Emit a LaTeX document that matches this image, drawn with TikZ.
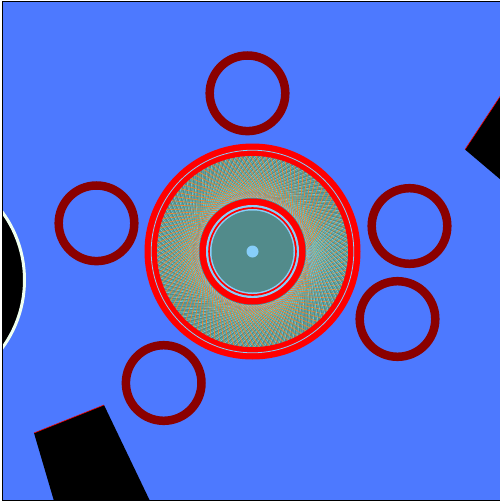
\documentclass[tikz,border=0pt]{standalone}
\usepackage{xcolor}
\usepackage{tikz}
\usetikzlibrary{calc}
\definecolor{fieldblue}{RGB}{77, 121, 255}
\definecolor{ringred}{RGB}{139, 0, 0}
\definecolor{hubteal}{RGB}{82, 139, 139}
\definecolor{skyline}{RGB}{135, 206, 250}
\definecolor{bladeorange}{RGB}{255, 127, 36}
\definecolor{bladecyan}{RGB}{120, 200, 220}
\definecolor{bladegreen}{RGB}{130, 210, 170}
\definecolor{rimwhite}{RGB}{240, 255, 240}

\begin{document}
\begin{tikzpicture}[x=1pt, y=-1pt, bolt/.style={draw=ringred, line width=8.5pt}, obstacle/.style={fill=black}]
    \useasboundingbox (0,0) rectangle (500,501);
    \fill[fieldblue] (2.5,1) rectangle (500.5,500);
    \begin{scope}
        \clip (2.5,1) rectangle (500.5,500);
        \filldraw[obstacle, draw=rimwhite, line width=3pt] (-90.5,280) circle (115);
        \fill[obstacle] (34,433) -- (104,405) -- (150,501) -- (54,501) -- cycle;
        \draw[red, line width=0.6pt] (34,433) -- (104,405);
        \fill[obstacle] (465,149.5) -- (501,95) -- (501,180) -- cycle;
        \draw[red, line width=0.6pt] (465,149.5) -- (501,95);
    \end{scope}
    \draw[black, line width=1pt] (2.5,1) rectangle (500.5,500);
    \foreach \cx/\cy in {247.5/93.3, 96.5/223.3, 409.5/226, 397.5/319, 163.7/383}
        \draw[bolt] (\cx,\cy) circle (37.8);
    \begin{scope}[shift={(252.5,251.5)}]
        \fill[red] (0,0) circle (108);
        \draw[skyline, line width=0.8pt] (0,0) circle (101.3);
        \fill[hubteal] (0,0) circle (95.5);
        \begin{scope}
            \clip (0,0) circle (95.5);
            \foreach \a in {0,3,...,357} {
                \draw[bladecyan, line width=0.6pt] (\a:54) -- (\a+50:96);
                \draw[bladegreen, line width=0.3pt] (\a+1:60) -- (\a+30:96);
                \draw[bladeorange, line width=0.6pt] (\a+1.5:54) -- (\a-25:96);
            }
        \end{scope}
        \fill[red] (0,0) circle (53);
        \fill[skyline] (0,0) circle (46.5);
        \fill[red] (0,0) circle (44.3);
        \fill[skyline] (0,0) circle (42.5);
        \fill[hubteal] (0,0) circle (41);
        \fill[skyline] (0,0) circle (6);
    \end{scope}
\end{tikzpicture}
\end{document}
